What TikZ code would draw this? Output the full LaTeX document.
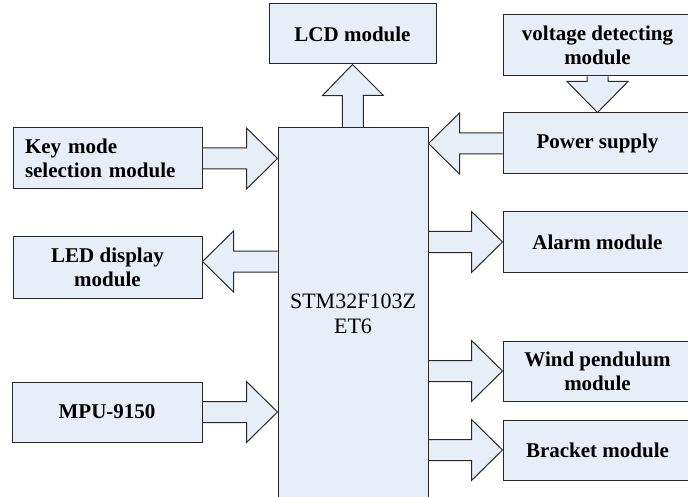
\documentclass[tikz,border=0pt]{standalone}
\usepackage{fontspec}
\setmainfont{Liberation Serif}
\usetikzlibrary{calc}
\pgfdeclarelayer{bg}
\pgfsetlayers{bg,main}
\definecolor{boxfill}{RGB}{232,238,247}
\definecolor{boxline}{RGB}{40,40,40}
\tikzset{
  blk/.style={draw=boxline, fill=boxfill, line width=1pt, inner sep=0pt,
    font=\fontsize{21}{24}\selectfont\bfseries, align=center},
  blockarr/.style={draw=boxline, line width=1pt, line join=miter},
}
\newcommand\blockarrow[2]{%
  \coordinate (ba-h) at ($(#2)!31pt!(#1)$);
  \coordinate (ba-1) at ($(#1)!10.5pt!90:(#2)$);
  \coordinate (ba-2) at ($(ba-h)!10.5pt!90:(#2)$);
  \coordinate (ba-3) at ($(ba-h)!30.5pt!90:(#2)$);
  \coordinate (ba-5) at ($(ba-h)!30.5pt!-90:(#2)$);
  \coordinate (ba-6) at ($(ba-h)!10.5pt!-90:(#2)$);
  \coordinate (ba-7) at ($(#1)!10.5pt!-90:(#2)$);
  \begin{pgfonlayer}{bg}
  \fill[boxfill] (ba-1) -- (ba-2) -- (ba-3) -- (#2) -- (ba-5) -- (ba-6) -- (ba-7) -- cycle;
  \draw[blockarr] (ba-1) -- (ba-2) -- (ba-3) -- (#2) -- (ba-5) -- (ba-6) -- (ba-7);
  \end{pgfonlayer}}
\begin{document}
\begin{tikzpicture}[x=1pt,y=-1pt]
\useasboundingbox (0,0) rectangle (688,497);
\clip (0,0) rectangle (688,497);
% boxes
\node[blk, minimum width=167pt, minimum height=60pt] (lcd) at (352.5,34) {LCD module};
\node[blk, minimum width=189pt, minimum height=61pt] (volt) at (597.5,45.5) {voltage detecting\\module};
\node[blk, minimum width=189pt, minimum height=61pt] (power) at (597.5,143.5) {Power supply};
\node[blk, minimum width=189pt, minimum height=60pt] (alarm) at (597.5,242) {Alarm module};
\node[blk, minimum width=189pt, minimum height=60pt] (wind) at (597.5,371) {Wind pendulum\\module};
\node[blk, minimum width=189pt, minimum height=60pt] (bracket) at (597.5,450) {Bracket module};
\node[blk, minimum width=189pt, minimum height=61pt, text width=165pt, align=left] (key) at (107.5,158.5) {Key mode\\selection module};
\node[blk, minimum width=189pt, minimum height=61pt] (led) at (107.5,267.5) {LED display\\module};
\node[blk, minimum width=190pt, minimum height=60pt] (mpu) at (107,412) {MPU-9150};
\node[blk, font=\fontsize{22}{25}\selectfont, minimum width=150pt, minimum height=372pt] (stm) at (353,314) {STM32F103Z\\ET6};
% arrow end points
\coordinate (k1) at (key.east -| stm.west);
\coordinate (l0) at ([yshift=6pt]led.east);
\coordinate (l1) at (l0 -| stm.west);
\coordinate (m1) at (mpu.east -| stm.west);
\coordinate (p1) at (power.west -| stm.east);
\coordinate (a0) at (alarm.west -| stm.east);
\coordinate (w0) at (wind.west -| stm.east);
\coordinate (b0) at (bracket.west -| stm.east);
% arrows
\blockarrow{stm.north}{lcd.south}
\blockarrow{volt.south}{power.north}
\blockarrow{power.west}{p1}
\blockarrow{key.east}{k1}
\blockarrow{l1}{l0}
\blockarrow{mpu.east}{m1}
\blockarrow{a0}{alarm.west}
\blockarrow{w0}{wind.west}
\blockarrow{b0}{bracket.west}
\end{tikzpicture}
\end{document}
